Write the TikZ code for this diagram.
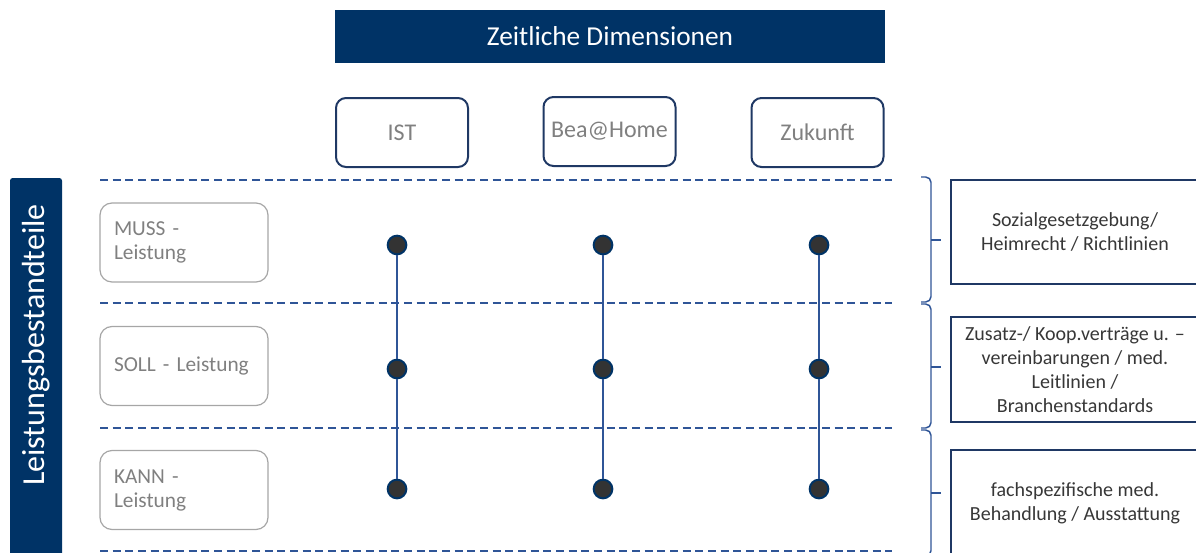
\documentclass[tikz,border=0pt]{standalone}
\usepackage{fontspec}
\setmainfont{Carlito}

\definecolor{navy}{RGB}{0,51,102}
\definecolor{framenavy}{RGB}{31,56,100}
\definecolor{linkblue}{RGB}{47,85,151}
\definecolor{dotgray}{RGB}{51,51,51}
\definecolor{labelgray}{RGB}{128,128,128}
\definecolor{framegray}{RGB}{166,166,166}
\definecolor{bodytext}{RGB}{55,55,55}

\tikzset{
  headbox/.style={fill=navy,minimum width=412.5pt,minimum height=39.75pt,inner sep=0pt,text=white,font=\fontsize{20.5}{24}\selectfont},
  dimbox/.style={draw=framenavy,line width=1.5pt,rounded corners=7.5pt,minimum width=99pt,minimum height=51.75pt,inner sep=0pt,text=labelgray,font=\fontsize{18}{21}\selectfont},
  partbox/.style={draw=framegray,line width=0.9pt,rounded corners=9pt,minimum width=126pt,minimum height=59.25pt,inner xsep=10.5pt,text width=105pt,align=left,text=labelgray,font=\fontsize{16}{18}\selectfont},
  normbox/.style={draw=framenavy,line width=1pt,minimum width=186pt,inner sep=0pt,align=center,text=bodytext,font=\fontsize{15}{17.75}\selectfont},
  dot/.style={circle,fill=dotgray,draw=navy,line width=1.5pt,minimum size=14pt,inner sep=0pt},
  vline/.style={draw=linkblue,line width=1.3pt},
  rowline/.style={draw=linkblue,line width=1.5pt,dash pattern=on 6pt off 3.5pt},
  bracket/.style={draw=linkblue,line width=1.1pt,rounded corners=4pt}
}

\begin{document}
\begin{tikzpicture}[x=0.75pt,y=0.75pt,yscale=-1,xscale=1]
\useasboundingbox (0,0) rectangle (1196,553);

%Shape: Rectangle [title bar]
\node[headbox] (title) at (610,36.5) {Zeitliche Dimensionen};

%Shape: Rounded Rectangles [time columns]
\node[dimbox] (ist) at (402,132.5) {IST};
\node[dimbox] (bea) at (609.5,131.5) {Bea@Home};
\node[dimbox] (zuk) at (817.5,132.5) {Zukunft};

%Shape: Rectangle [side bar]
\fill[navy,rounded corners=2pt] (10,178) rectangle (62,570);
% Text Node
\node[rotate=90,text=white,font=\fontsize{24}{28}\selectfont] (side) at (36,345) {Leistungsbestandteile};

%Straight Lines [dashed row borders]
\draw[rowline] (100,180) -- (892,180);
\draw[rowline] (100,303) -- (892,303);
\draw[rowline] (100,428) -- (892,428);
\draw[rowline] (100,551) -- (892,551);

%Shape: Rounded Rectangles [service parts]
\node[partbox] (muss) at (184,242.5) {MUSS -\\Leistung};
\node[partbox] (soll) at (184,366) {SOLL - Leistung};
\node[partbox] (kann) at (184,490) {KANN -\\Leistung};

%Shape: Circles
\node[dot] (ist1) at (397,245) {};
\node[dot] (ist2) at (397,369) {};
\node[dot] (ist3) at (397,489) {};
\node[dot] (bea1) at (603,245) {};
\node[dot] (bea2) at (603,369) {};
\node[dot] (bea3) at (603,489) {};
\node[dot] (zuk1) at (819,245) {};
\node[dot] (zuk2) at (819,369) {};
\node[dot] (zuk3) at (819,489) {};

%Straight Lines [columns]
\draw[vline] (ist1) -- (ist2) -- (ist3);
\draw[vline] (bea1) -- (bea2) -- (bea3);
\draw[vline] (zuk1) -- (zuk2) -- (zuk3);

%Shape: Braces
\coordinate (b1top) at (921,177);
\coordinate (b1bot) at (921,302);
\coordinate (b1tip) at (941,240);
\coordinate (b2top) at (921,304);
\coordinate (b2bot) at (921,428);
\coordinate (b2tip) at (941,367);
\coordinate (b3top) at (921,430);
\coordinate (b3bot) at (921,556);
\coordinate (b3tip) at (941,493);
\draw[bracket] (b1top) -| (931,240) |- (b1bot);
\draw[bracket] (931,240) -- (b1tip);
\draw[bracket] (b2top) -| (931,367) |- (b2bot);
\draw[bracket] (931,367) -- (b2tip);
\draw[bracket] (b3top) -| (931,493) |- (b3bot);
\draw[bracket] (931,493) -- (b3tip);

%Shape: Rectangles [norm sources]
\node[normbox,minimum height=78pt] (norm1) at (1075,232) {Sozialgesetzgebung/\\Heimrecht / Richtlinien};
\node[normbox,minimum height=78.75pt,font=\fontsize{15}{18}\selectfont] (norm2) at (1075,369.5) {Zusatz-/ Koop.verträge u. –\\vereinbarungen / med.\\Leitlinien /\\Branchenstandards};
\node[normbox,minimum height=79.5pt] (norm3) at (1075,503) {fachspezifische med.\\Behandlung / Ausstattung};

\end{tikzpicture}
\end{document}
